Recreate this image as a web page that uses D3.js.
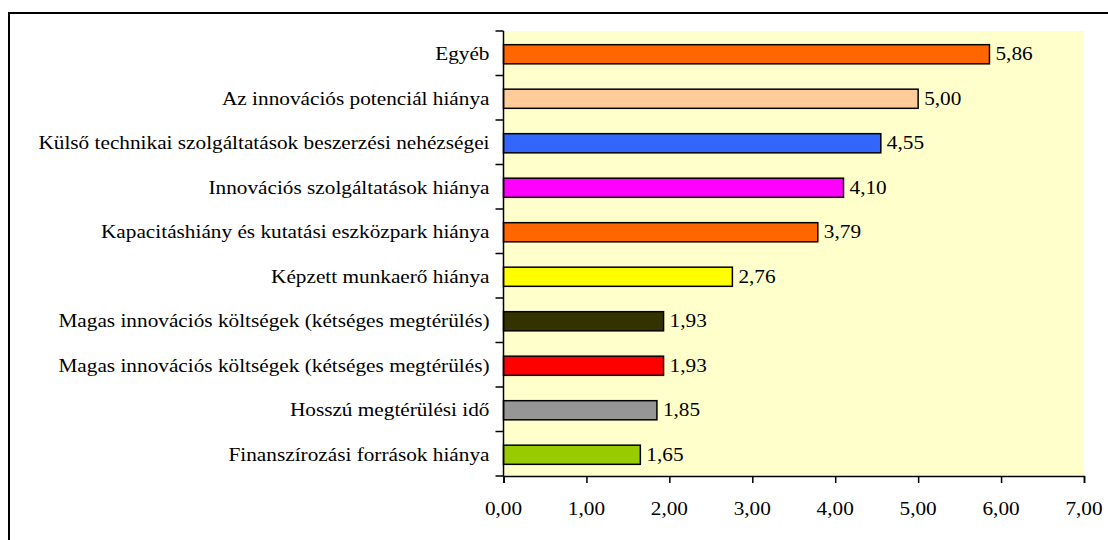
<!DOCTYPE html>
<html>
<head>
<meta charset="utf-8">
<script src="https://cdn.jsdelivr.net/npm/d3@7"></script>
<style>
  body { margin: 0; background: #fff; }
</style>
</head>
<body>
<script>
// Chart data (top to bottom)
var categories = [
  "Egyéb",
  "Az innovációs potenciál hiánya",
  "Külső technikai szolgáltatások beszerzési nehézségei",
  "Innovációs szolgáltatások hiánya",
  "Kapacitáshiány és kutatási eszközpark hiánya",
  "Képzett munkaerő hiánya",
  "Magas innovációs költségek (kétséges megtérülés)",
  "Magas innovációs költségek (kétséges megtérülés)",
  "Hosszú megtérülési idő",
  "Finanszírozási források hiánya"
];
var values = [5.86, 5.00, 4.55, 4.10, 3.79, 2.76, 1.93, 1.93, 1.85, 1.65];
var barColors = ["#FF6600", "#FFCC99", "#3366FF", "#FF00FF", "#FF6600",
                 "#FFFF00", "#333300", "#FF0000", "#969696", "#99CC00"];
var xTicks = [0, 1, 2, 3, 4, 5, 6, 7];

var svgWidth = 1108;
var svgHeight = 540;
var serif = "'Liberation Serif', 'Times New Roman', serif";

var chartMargin = { top: 31, right: 24, bottom: 64, left: 503.5 };
var chartWidth = 1084 - chartMargin.left;
var chartHeight = 476 - chartMargin.top;

var svg = d3.select("body")
  .append("svg")
  .attr("width", svgWidth)
  .attr("height", svgHeight);

// outer frame (runs off the right and bottom edge)
svg.append("rect")
  .attr("x", 9)
  .attr("y", 13)
  .attr("width", 1200)
  .attr("height", 600)
  .attr("fill", "none")
  .attr("stroke", "#000")
  .attr("stroke-width", 2);

var chartGroup = svg.append("g")
  .attr("transform", `translate(${chartMargin.left}, ${chartMargin.top})`);

var fmt = d => d3.format(".2f")(d).replace(".", ",");

var xScale = d3.scaleLinear()
  .domain([0, 7])
  .range([0, chartWidth]);

var yScale = d3.scaleBand()
  .domain(d3.range(categories.length))
  .range([0, chartHeight])
  .padding(0);

// plot background
chartGroup.append("rect")
  .attr("width", chartWidth)
  .attr("height", chartHeight)
  .attr("fill", "#FFFFCC");

// bars
var barH = yScale.bandwidth() * 0.43;
chartGroup.selectAll(".bar")
  .data(values)
  .enter()
  .append("rect")
  .attr("class", "bar")
  .attr("x", 0)
  .attr("y", (d, i) => yScale(i) + yScale.bandwidth() / 2 - barH / 2 + 1)
  .attr("width", d => xScale(d))
  .attr("height", barH)
  .attr("fill", (d, i) => barColors[i])
  .attr("stroke", "#000")
  .attr("stroke-width", 1.5);

// bottom axis
var bottomAxis = d3.axisBottom(xScale)
  .tickValues(xTicks)
  .tickSize(7)
  .tickFormat(fmt);

var xAxisG = chartGroup.append("g")
  .attr("transform", `translate(0, ${chartHeight})`)
  .call(bottomAxis);
xAxisG.select(".domain").attr("stroke", "#000").attr("stroke-width", 1.5);
xAxisG.selectAll(".tick line").attr("stroke", "#000").attr("stroke-width", 1.5);
xAxisG.selectAll("text").remove();

// left axis: line plus ticks at the band boundaries
chartGroup.append("line")
  .attr("x1", 0).attr("x2", 0)
  .attr("y1", 0).attr("y2", chartHeight)
  .attr("stroke", "#000")
  .attr("stroke-width", 1.5);

var boundaries = d3.range(categories.length + 1);
chartGroup.selectAll(".ytick")
  .data(boundaries)
  .enter()
  .append("line")
  .attr("class", "ytick")
  .attr("x1", -8).attr("x2", 0)
  .attr("y1", d => d * yScale.step())
  .attr("y2", d => d * yScale.step())
  .attr("stroke", "#000")
  .attr("stroke-width", 1.5);

// text helper: serif text, stretched a little in x like the original
var stretch = 1.12;
function addText(x, y, str, anchor) {
  chartGroup.append("text")
    .attr("transform", `translate(${x}, ${y}) scale(${stretch}, 1)`)
    .attr("dy", "0.35em")
    .attr("text-anchor", anchor)
    .style("font-family", serif)
    .style("font-size", "19px")
    .style("fill", "#000")
    .text(str);
}

// value labels
values.forEach(function(d, i) {
  addText(xScale(d) + 6, yScale(i) + yScale.bandwidth() / 2 + 0.5, fmt(d), "start");
});

// x tick labels
xTicks.forEach(function(t) {
  addText(xScale(t), chartHeight + 32, fmt(t), "middle");
});

// category labels
categories.forEach(function(c, i) {
  addText(-14, yScale(i) + yScale.bandwidth() / 2 + 0.5, c, "end");
});
</script>
</body>
</html>
